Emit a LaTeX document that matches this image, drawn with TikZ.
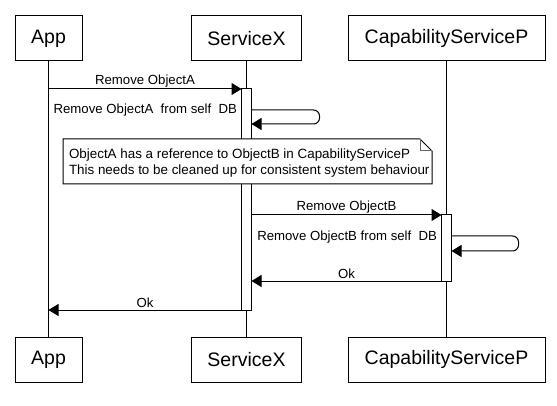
\documentclass[tikz,border=0pt]{standalone}
\usepackage{fontspec}
\setmainfont{Liberation Sans}
\usetikzlibrary{arrows.meta}
\begin{document}
\begin{tikzpicture}[x=1pt,y=-1pt,
  every node/.style={inner sep=0pt,outer sep=0pt},
  actor/.style={draw=black,line width=1pt,fill=white,minimum height=45pt,font=\fontsize{19.5}{23}\selectfont},
  lifeline/.style={draw=black,line width=1pt},
  activation/.style={draw=black,line width=1pt,fill=white,minimum width=10pt},
  msg/.style={draw=black,line width=1pt,-{Triangle[length=10pt,width=12pt]}},
  lbl/.style={font=\fontsize{13.2}{16}\selectfont},
  notetext/.style={font=\fontsize{13.4}{16}\selectfont},
  notebox/.style={draw=black,line width=1pt,fill=white}
]
\useasboundingbox (0,0) rectangle (557,406);
% actors
\node[actor,minimum width=67pt]  (appT) at (48.5,38.5) {App};
\node[actor,minimum width=110pt] (svcT) at (246.5,38.5) {ServiceX};
\node[actor,minimum width=197pt] (cspT) at (446.5,38.5) {CapabilityServiceP};
\node[actor,minimum width=67pt]  (appB) at (48.5,359.5) {App};
\node[actor,minimum width=110pt] (svcB) at (246.5,359.5) {ServiceX};
\node[actor,minimum width=197pt] (cspB) at (446.5,359.5) {CapabilityServiceP};
% lifelines
\draw[lifeline] (appT.south) -- (appB.north);
\draw[lifeline] (svcT.south) -- (svcB.north);
\draw[lifeline] (cspT.south) -- (cspB.north);
% activations
\node[activation,minimum height=221pt] (actX) at (246.5,199.5) {};
\node[activation,minimum height=66pt]  (actP) at (446.5,248) {};
% message 1
\draw[msg] (appT.south |- actX.north) -- node[lbl,above=2pt] (m1) {Remove ObjectA} (actX.north west);
% self message 1
\coordinate (s1a) at (actX.east |- 0,110);
\coordinate (s1b) at (actX.east |- 0,124);
\draw[msg,rounded corners=6pt] (s1a) -- ++(68,0) |- (s1b);
\node[lbl,anchor=east] (l1) at (237,110) {Remove ObjectA\ \ from self\ \ DB};
% note
\coordinate (nA) at (63,139);
\coordinate (nB) at (432,184);
\coordinate (nF) at (420,139);
\draw[notebox] (nA) -- (nF) -- ++(12,12) -- (nB) -- (nA |- nB) -- cycle;
\draw[line width=1pt,line join=miter,draw=black!60] (nF) -- ++(0,12) -- ++(12,0);
\node[notetext,anchor=west,align=left] (note) at (69,163) {ObjectA has a reference to ObjectB in CapabilityServiceP\\This needs to be cleaned up for consistent system behaviour};
% message 2
\draw[msg] (actX.east |- actP.north) -- node[lbl,above=2pt] (m2) {Remove ObjectB} (actP.north west);
% self message 2
\coordinate (s2a) at (actP.east |- 0,236);
\coordinate (s2b) at (actP.east |- 0,251);
\draw[msg,rounded corners=6pt] (s2a) -- ++(67,0) |- (s2b);
\node[lbl,anchor=east] (l2) at (437,237) {Remove ObjectB from self\ \ DB};
% return 1
\draw[msg] (actP.south west) -- node[lbl,above=2pt] (r1) {Ok} (actX.east |- actP.south);
% return 2
\draw[msg] (actX.south west) -- node[lbl,above=2pt] (r2) {Ok} (appT.south |- actX.south);
\end{tikzpicture}
\end{document}
